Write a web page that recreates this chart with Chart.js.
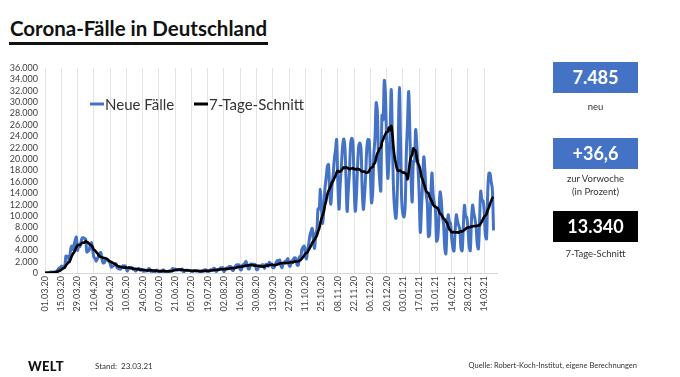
<!DOCTYPE html>
<html><head><meta charset="utf-8">
<script src="https://cdn.jsdelivr.net/npm/chart.js@4.4.1/dist/chart.umd.min.js"></script>
<style>
html,body{margin:0;padding:0;background:#fff;}
body{width:680px;height:377px;position:relative;overflow:hidden;font-family:Lato,"Open Sans",sans-serif;color:#222;}
#c{position:absolute;left:0;top:0;}
#title{position:absolute;left:10px;top:16px;font-weight:700;font-size:20.5px;color:#111;white-space:nowrap;}
#uline{position:absolute;left:9px;top:42px;width:259px;height:2.5px;background:#111;}
.box{position:absolute;left:553px;width:85px;height:31px;line-height:31px;color:#fff;font-weight:700;font-size:18px;text-align:center;}
.cap{position:absolute;left:535px;width:121px;text-align:center;font-size:9.5px;line-height:13px;color:#333;}
#welt{position:absolute;left:28px;top:358px;font-weight:900;font-size:13px;color:#111;letter-spacing:0.3px;}
#stand{position:absolute;left:95px;top:361px;font-size:8px;color:#333;white-space:pre;}
#quelle{position:absolute;right:43px;top:361px;font-size:7.5px;color:#333;}
</style></head><body>
<div id="title"></div>
<div id="uline"></div>
<canvas id="c" width="680" height="377"></canvas>
<div id="b1" class="box" style="top:62px;background:#4472C4;"></div>
<div id="c1" class="cap" style="top:100px;"></div>
<div id="b2" class="box" style="top:138px;background:#4472C4;"></div>
<div id="c2" class="cap" style="top:172px;"></div>
<div id="b3" class="box" style="top:211px;background:#000;"></div>
<div id="c3" class="cap" style="top:247px;"></div>
<div id="welt">WELT</div>
<div id="stand"></div>
<div id="quelle"></div>
<script>
// ---- Data ----
const titleText = "Corona-Fälle in Deutschland";
const seriesNames = ["Neue Fälle", "7-Tage-Schnitt"];
const tickLabels = ["01.03.20","15.03.20","29.03.20","12.04.20","26.04.20","10.05.20","24.05.20","07.06.20","21.06.20","05.07.20","19.07.20","02.08.20","16.08.20","30.08.20","13.09.20","27.09.20","11.10.20","25.10.20","08.11.20","22.11.20","06.12.20","20.12.20","03.01.21","17.01.21","31.01.21","14.02.21","28.02.21","14.03.21"];
const yTicks = [0,2000,4000,6000,8000,10000,12000,14000,16000,18000,20000,22000,24000,26000,28000,30000,32000,34000,36000];
// daily new cases, 01.03.20 .. 22.03.21
const newCases = [
57,
27,46,46,112,174,152,170,
102,257,360,530,870,740,1210,
1043,1174,1144,2960,2705,2946,1948,
4062,4764,4118,4954,5780,6294,3965,
4751,4615,5453,6156,6174,6082,5936,
3677,3834,4003,4974,5323,4133,2821,
2537,2082,2486,2866,3380,3609,2458,
1775,1785,2237,2352,2337,2055,1737,
1018,1144,1304,1478,1639,945,793,
697,685,947,1284,1209,1251,667,
357,933,798,933,913,620,583,
342,513,797,745,460,638,431,
289,432,362,353,741,738,286,
333,213,342,242,507,407,301,
214,350,318,555,192,247,252,
192,378,345,580,770,601,687,
537,503,587,630,477,687,256,
262,466,466,503,446,422,239,
219,397,442,398,395,378,159,
159,351,412,534,583,469,202,
249,454,569,586,815,781,305,
340,633,684,902,870,955,240,
509,879,741,1045,1147,1122,555,
436,966,1226,1445,1449,1415,625,
561,1390,1510,1707,2034,1427,711,
780,1576,1507,1571,1479,1479,610,
610,1218,1256,1311,1453,1378,814,
1499,1499,1176,1892,1484,1630,988,
927,1407,1901,2194,1916,2297,1345,
922,1769,1769,2143,2153,2507,1411,
1192,2089,1798,2503,2673,2563,1382,
1382,2828,2639,4058,4516,4721,3483,
2467,4122,5132,6638,7334,7830,5587,
4325,6868,7595,11287,11242,14714,11176,
8685,11409,14964,16774,18681,19059,14177,
12097,15352,17214,19990,21506,23399,16017,
11200,15332,18487,21866,23542,22461,16947,
10824,14419,17561,22609,23648,22964,15741,
10864,13554,18633,22268,22806,21695,14611,
11169,13604,17270,22046,23449,23318,17767,
12332,14054,20815,23679,29875,28438,20200,
16362,14432,27728,26923,33777,31300,22771,
16643,19528,24740,32195,22900,14455,10976,
9600,12892,22459,32552,22924,12690,10315,
9847,11897,21237,26391,31849,24694,16946,
12497,19600,19600,25164,22368,18678,13882,
7141,11369,15974,20398,17862,13882,12257,
6408,6729,13202,17553,13835,12321,11192,
5608,6114,9705,14211,12908,9860,8616,
4535,3379,8072,10237,9070,8682,6114,
4426,3856,7556,10207,9113,8354,7676,
4369,3883,8007,11869,9997,9762,7890,
4732,3943,9019,11912,10580,9557,8103,
5011,4252,9146,14356,12834,12674,10790,
6604,6000,14000,17504,17482,16033,14700,
7485
];
const kpiValues = ["7.485", "+36,6", "13.340"];
const kpiCaptions = ["neu", "zur Vorwoche<br>(in Prozent)", "7-Tage-Schnitt"];
const standText = "Stand:  23.03.21";
const sourceText = "Quelle: Robert-Koch-Institut, eigene Berechnungen";

// ---- Text ----
document.getElementById('title').textContent = titleText;
document.getElementById('b1').textContent = kpiValues[0];
document.getElementById('b2').textContent = kpiValues[1];
document.getElementById('b3').textContent = kpiValues[2];
document.getElementById('c1').innerHTML = kpiCaptions[0];
document.getElementById('c2').innerHTML = kpiCaptions[1];
document.getElementById('c3').innerHTML = kpiCaptions[2];
document.getElementById('stand').textContent = standText;
document.getElementById('quelle').textContent = sourceText;

// 7-day rolling mean of the daily cases
const avg7 = newCases.map((v, i) => {
  const s = newCases.slice(Math.max(0, i - 6), i + 1);
  return s.reduce((a, b) => a + b, 0) / s.length;
});

function fmtDE(v){ return String(Math.round(v)).replace(/\B(?=(\d{3})+(?!\d))/g, '.'); }

Chart.defaults.font.family = 'Lato, "Open Sans", sans-serif';
Chart.defaults.color = '#404040';

const legendInside = {
  id: 'legendInside',
  afterDatasetsDraw(chart) {
    const c = chart.ctx;
    const items = [
      {ds: chart.data.datasets[0], x: 90},
      {ds: chart.data.datasets[1], x: 194}
    ];
    const y = 104;
    c.save();
    c.font = '15px Lato, "Open Sans", sans-serif';
    c.textBaseline = 'middle';
    items.forEach(it => {
      c.strokeStyle = it.ds.borderColor;
      c.lineWidth = 3;
      c.beginPath(); c.moveTo(it.x, y); c.lineTo(it.x + 14, y); c.stroke();
      c.fillStyle = '#333';
      c.fillText(it.ds.label, it.x + 15, y + 1);
    });
    c.restore();
  }
};

new Chart(document.getElementById('c'), {
  type: 'line',
  data: {
    datasets: [
      { label: seriesNames[0], data: newCases.map((v, i) => ({x: i, y: v})), borderColor: '#4472C4', borderWidth: 3, pointRadius: 0, tension: 0.35, order: 2 },
      { label: seriesNames[1], data: avg7.map((v, i) => ({x: i, y: v})), borderColor: '#000000', borderWidth: 2.6, pointRadius: 0, tension: 0.35, order: 1 }
    ]
  },
  options: {
    responsive: false, animation: false, devicePixelRatio: 1,
    layout: { padding: { left: 0, right: 183, top: 68, bottom: 54 } },
    plugins: { legend: { display: false }, tooltip: { enabled: false } },
    scales: {
      x: {
        type: 'linear', min: 0, max: 389,
        afterBuildTicks: s => { s.ticks = tickLabels.map((_, i) => ({ value: i * 14 })); },
        afterFit: s => { s.height = 50; },
        ticks: { autoSkip: false, minRotation: 90, maxRotation: 90, padding: 3,
          font: { size: 9 }, color: '#404040',
          callback: (v) => tickLabels[Math.round(v / 14)] },
        grid: { color: '#e4e4e4', lineWidth: 1, drawTicks: false },
        border: { color: '#d6d6d6' }
      },
      y: {
        min: 0, max: 36000,
        afterBuildTicks: s => { s.ticks = yTicks.map(v => ({ value: v })); },
        afterFit: s => { s.width = 45; },
        ticks: { autoSkip: false, padding: 7, font: { size: 9 }, color: '#404040', callback: v => fmtDE(v) },
        grid: { display: false, drawTicks: false },
        border: { color: '#e4e4e4' }
      }
    }
  },
  plugins: [legendInside]
});
</script>
</body></html>
